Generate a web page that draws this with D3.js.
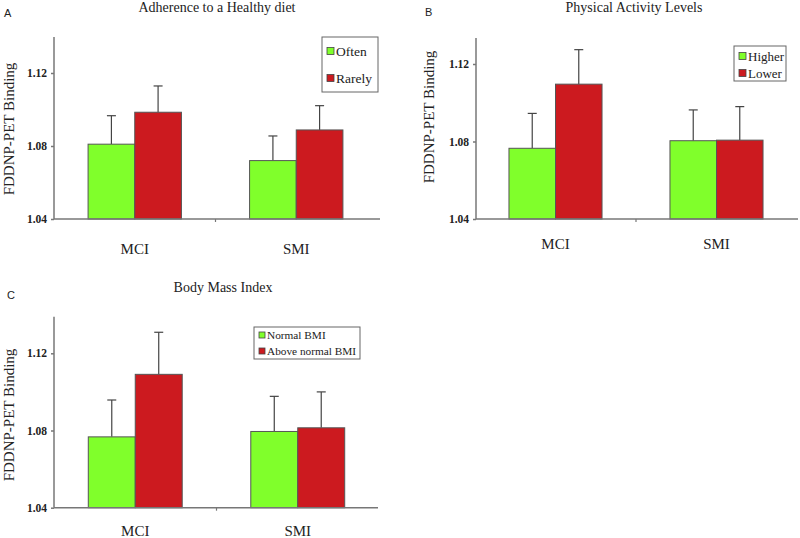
<!DOCTYPE html>
<html>
<head>
<meta charset="utf-8">
<script src="https://cdn.jsdelivr.net/npm/d3@7"></script>
<style>
  body { margin: 0; background: #fff; }
  svg { display: block; }
</style>
</head>
<body>
<svg id="chart" width="800" height="538"></svg>
<script>
// ---------- data ----------
const categories = ["MCI", "SMI"];
const panelLetters = ["A", "B", "C"];
const panelTitles = ["Adherence to a Healthy diet", "Physical Activity Levels", "Body Mass Index"];
const yAxisLabel = "FDDNP-PET Binding";
const yTicks = [1.04, 1.08, 1.12];

const dietSeries = ["Often", "Rarely"];
const dietOften = [1.081, 1.072];
const dietRarely = [1.0985, 1.0888];
const dietOftenErr = [0.0156, 0.0135];
const dietRarelyErr = [0.0144, 0.0133];

const activitySeries = ["Higher", "Lower"];
const activityHigher = [1.0765, 1.0804];
const activityLower = [1.1096, 1.0807];
const activityHigherErr = [0.0180, 0.0159];
const activityLowerErr = [0.0178, 0.0173];

const bmiSeries = ["Normal BMI", "Above normal BMI"];
const bmiNormal = [1.0767, 1.0795];
const bmiAbove = [1.1091, 1.0814];
const bmiNormalErr = [0.0191, 0.0182];
const bmiAboveErr = [0.0218, 0.0186];

// ---------- styles ----------
const seriesColors = ["#80ff2b", "#cc1a1f"];
const serif = "'Liberation Serif', 'Times New Roman', serif";
const sans = "'Liberation Sans', Arial, sans-serif";

const panels = [
  { letter: panelLetters[0], title: panelTitles[0], series: dietSeries,
    values: [dietOften, dietRarely], errs: [dietOftenErr, dietRarelyErr],
    L: { axisX: 54, axisRight: 380, bandL: 54, bandR: 377, y0: 219, y1: 73, top: 37,
         letterX: 4, letterY: 17, titleX: 217, titleY: 12, catY: 254, yLabX: 14, yLabY: 129,
         leg: { x: 322, y: 37, w: 56, h: 55, rows: [51, 78], font: 13.5, sw: 7 } } },
  { letter: panelLetters[1], title: panelTitles[1], series: activitySeries,
    values: [activityHigher, activityLower], errs: [activityHigherErr, activityLowerErr],
    L: { axisX: 476, axisRight: 798, bandL: 475, bandR: 797, y0: 219, y1: 64, top: 38,
         letterX: 425, letterY: 16, titleX: 634, titleY: 12, catY: 249, yLabX: 434, yLabY: 117,
         leg: { x: 734, y: 46, w: 52, h: 35, rows: [56, 73], font: 13, sw: 7 } } },
  { letter: panelLetters[2], title: panelTitles[2], series: bmiSeries,
    values: [bmiNormal, bmiAbove], errs: [bmiNormalErr, bmiAboveErr],
    L: { axisX: 54, axisRight: 378, bandL: 54, bandR: 379, y0: 507.7, y1: 353.3, top: 316.7,
         letterX: 7, letterY: 299, titleX: 223, titleY: 292, catY: 536, yLabX: 14, yLabY: 415,
         leg: { x: 254, y: 327, w: 106, h: 32, rows: [335, 351], font: 11.3, sw: 6 } } }
];

const svg = d3.select("#chart");

panels.forEach(p => {
  const L = p.L;
  const g = svg.append("g");

  const y = d3.scaleLinear().domain([yTicks[0], yTicks[2]]).range([L.y0, L.y1]);
  const x = d3.scaleBand().domain(categories).range([L.bandL, L.bandR]).padding(0);
  const gw = x.bandwidth() * 0.578;
  const xs = d3.scaleBand().domain(p.series).range([-gw / 2, gw / 2]).padding(0);

  // panel letter
  g.append("text").attr("x", L.letterX).attr("y", L.letterY)
    .attr("font-family", sans).attr("font-size", 11).attr("fill", "#222")
    .text(p.letter);

  // title
  g.append("text").attr("x", L.titleX).attr("y", L.titleY)
    .attr("text-anchor", "middle").attr("font-family", serif).attr("font-size", 14)
    .attr("fill", "#222").text(p.title);

  // y axis label
  g.append("text")
    .attr("transform", `translate(${L.yLabX},${L.yLabY}) rotate(-90)`)
    .attr("text-anchor", "middle").attr("font-family", serif).attr("font-size", 15)
    .attr("fill", "#222").text(yAxisLabel);

  // bars
  p.series.forEach((s, si) => {
    categories.forEach((c, ci) => {
      const v = p.values[si][ci];
      const e = p.errs[si][ci];
      const bx = x(c) + x.bandwidth() / 2 + xs(s);
      const cx = bx + xs.bandwidth() / 2;
      // error bar (upper only)
      g.append("line").attr("x1", cx).attr("x2", cx)
        .attr("y1", y(v)).attr("y2", y(v + e))
        .attr("stroke", "#444").attr("stroke-width", 1.2);
      g.append("line").attr("x1", cx - 4.5).attr("x2", cx + 4.5)
        .attr("y1", y(v + e)).attr("y2", y(v + e))
        .attr("stroke", "#444").attr("stroke-width", 1.2);
      g.append("rect")
        .attr("x", bx).attr("width", xs.bandwidth())
        .attr("y", y(v)).attr("height", y(yTicks[0]) - y(v))
        .attr("fill", seriesColors[si]).attr("stroke", "#555").attr("stroke-width", 1);
    });
  });

  // y axis
  const yAxis = d3.axisLeft(y).tickValues(yTicks).tickSize(3).tickFormat(d3.format(".2f"));
  const ya = g.append("g").attr("transform", `translate(${L.axisX},0)`).call(yAxis);
  ya.select(".domain").remove();
  ya.selectAll(".tick line").attr("stroke", "#777").attr("stroke-width", 1.5);
  ya.selectAll(".tick text").attr("font-family", serif).attr("font-weight", "bold")
    .attr("font-size", 11.5).attr("fill", "#222").attr("x", -7);
  g.append("line").attr("x1", L.axisX).attr("x2", L.axisX)
    .attr("y1", L.top).attr("y2", L.y0).attr("stroke", "#777").attr("stroke-width", 1.5);

  // x axis
  g.append("line").attr("x1", L.axisX).attr("x2", L.axisRight)
    .attr("y1", L.y0).attr("y2", L.y0).attr("stroke", "#777").attr("stroke-width", 1.5);
  const midX = x(categories[1]);
  g.append("line").attr("x1", midX).attr("x2", midX)
    .attr("y1", L.y0).attr("y2", L.y0 + 3).attr("stroke", "#777").attr("stroke-width", 1.2);
  categories.forEach(c => {
    g.append("text").attr("x", x(c) + x.bandwidth() / 2).attr("y", L.catY)
      .attr("text-anchor", "middle").attr("font-family", serif).attr("font-size", 15)
      .attr("fill", "#222").text(c);
  });

  // legend
  const lg = L.leg;
  g.append("rect").attr("x", lg.x).attr("y", lg.y).attr("width", lg.w).attr("height", lg.h)
    .attr("fill", "#fff").attr("stroke", "#666").attr("stroke-width", 1);
  p.series.forEach((s, si) => {
    g.append("rect").attr("x", lg.x + 5).attr("y", lg.rows[si] - lg.sw / 2)
      .attr("width", lg.sw).attr("height", lg.sw)
      .attr("fill", seriesColors[si]).attr("stroke", "#444").attr("stroke-width", 0.8);
    g.append("text").attr("x", lg.x + 7 + lg.sw).attr("y", lg.rows[si])
      .attr("dominant-baseline", "central").attr("font-family", serif)
      .attr("font-size", lg.font).attr("fill", "#222").text(s);
  });
});
</script>
</body>
</html>
